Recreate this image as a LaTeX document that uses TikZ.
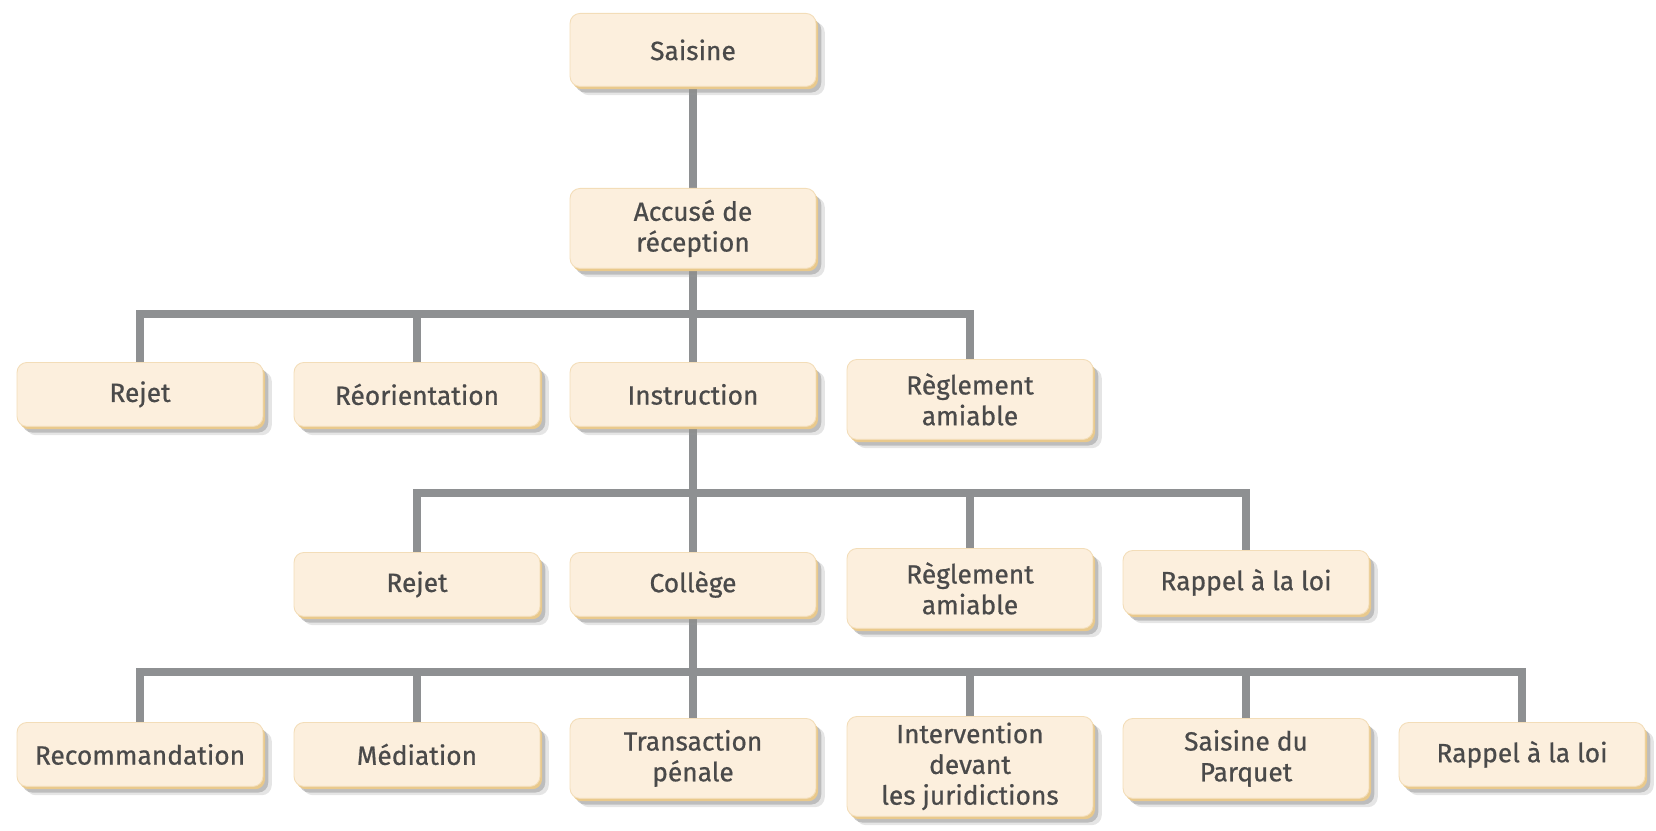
\documentclass[tikz,border=0pt]{standalone}
\usepackage{fontspec}
\setmainfont{Fira Sans}
\newfontfamily\boxfont[FakeBold=0.7]{Fira Sans}
\usepackage{xcolor}
\usepackage{tikz}
\usetikzlibrary{shapes,positioning,calc,shadows,backgrounds}

\definecolor{boxfill}{HTML}{FCEFDD}
\definecolor{boxedge}{HTML}{F3DDB8}
\definecolor{shadowtan}{HTML}{E9C98C}
\definecolor{linkgray}{HTML}{8E9092}
\definecolor{textgray}{HTML}{4A4A4A}

\tikzset{
  box/.style={rectangle, rounded corners=0.2cm, fill=boxfill, draw=boxedge, line width=0.5pt,
    minimum width=4.92cm, minimum height=1.28cm, inner ysep=3.5pt, align=center,
    text=textgray, font=\boxfont\fontsize{15}{17.5}\selectfont, anchor=north,
    general shadow={fill=black!40, opacity=0.25, shadow xshift=5pt, shadow yshift=-5pt},
    general shadow={fill=black!45, opacity=0.45, shadow xshift=3pt, shadow yshift=-3.5pt},
    general shadow={fill=shadowtan, shadow xshift=1.2pt, shadow yshift=-1.6pt}},
  twoline/.style={minimum height=1.6cm},
  link/.style={draw=linkgray, line width=4.8pt, line join=miter}
}

\begin{document}
\begin{tikzpicture}[x=0.02cm,y=-0.02cm]
  \useasboundingbox (0,0) rectangle (1656,831);

  % levels
  \node[box, minimum height=1.46cm] (saisine) at (693,13) {Saisine};
  \node[box, twoline] (accuse) at (693,188) {Accusé de\\réception};

  \node[box] (rejetA)   at (140,362) {Rejet};
  \node[box] (reorient) at (417,362) {Réorientation};
  \node[box] (instr)    at (693,362) {Instruction};
  \node[box, twoline] (reglA) at (970,359) {Règlement\\amiable};

  \node[box] (rejetB)  at (417,552) {Rejet};
  \node[box] (college) at (693,552) {Collège};
  \node[box, twoline] (reglB) at (970,548) {Règlement\\amiable};
  \node[box] (rappelB) at (1246,550) {Rappel à la loi};

  \node[box] (recomm)      at (140,722) {Recommandation};
  \node[box] (mediation)   at (417,722) {Médiation};
  \node[box, twoline] (transaction) at (693,718) {Transaction\\pénale};
  \node[box] (interv)      at (970,716) {Intervention\\devant\\les juridictions};
  \node[box, twoline] (parquet) at (1246,718) {Saisine du\\Parquet};
  \node[box] (rappelC)     at (1522,722) {Rappel à la loi};

  \coordinate (bar1) at (0,314);
  \coordinate (bar2) at (0,493);
  \coordinate (bar3) at (0,672);

  % connectors
  \begin{scope}[on background layer]
    \draw[link] (saisine.south) -- (accuse.north);
    \foreach \c in {rejetA,reorient,instr,reglA}
      \draw[link] (accuse.south) -- (accuse.south |- bar1) -| (\c.north);
    \foreach \c in {rejetB,college,reglB,rappelB}
      \draw[link] (instr.south) -- (instr.south |- bar2) -| (\c.north);
    \foreach \c in {recomm,mediation,transaction,interv,parquet,rappelC}
      \draw[link] (college.south) -- (college.south |- bar3) -| (\c.north);
  \end{scope}
\end{tikzpicture}
\end{document}
